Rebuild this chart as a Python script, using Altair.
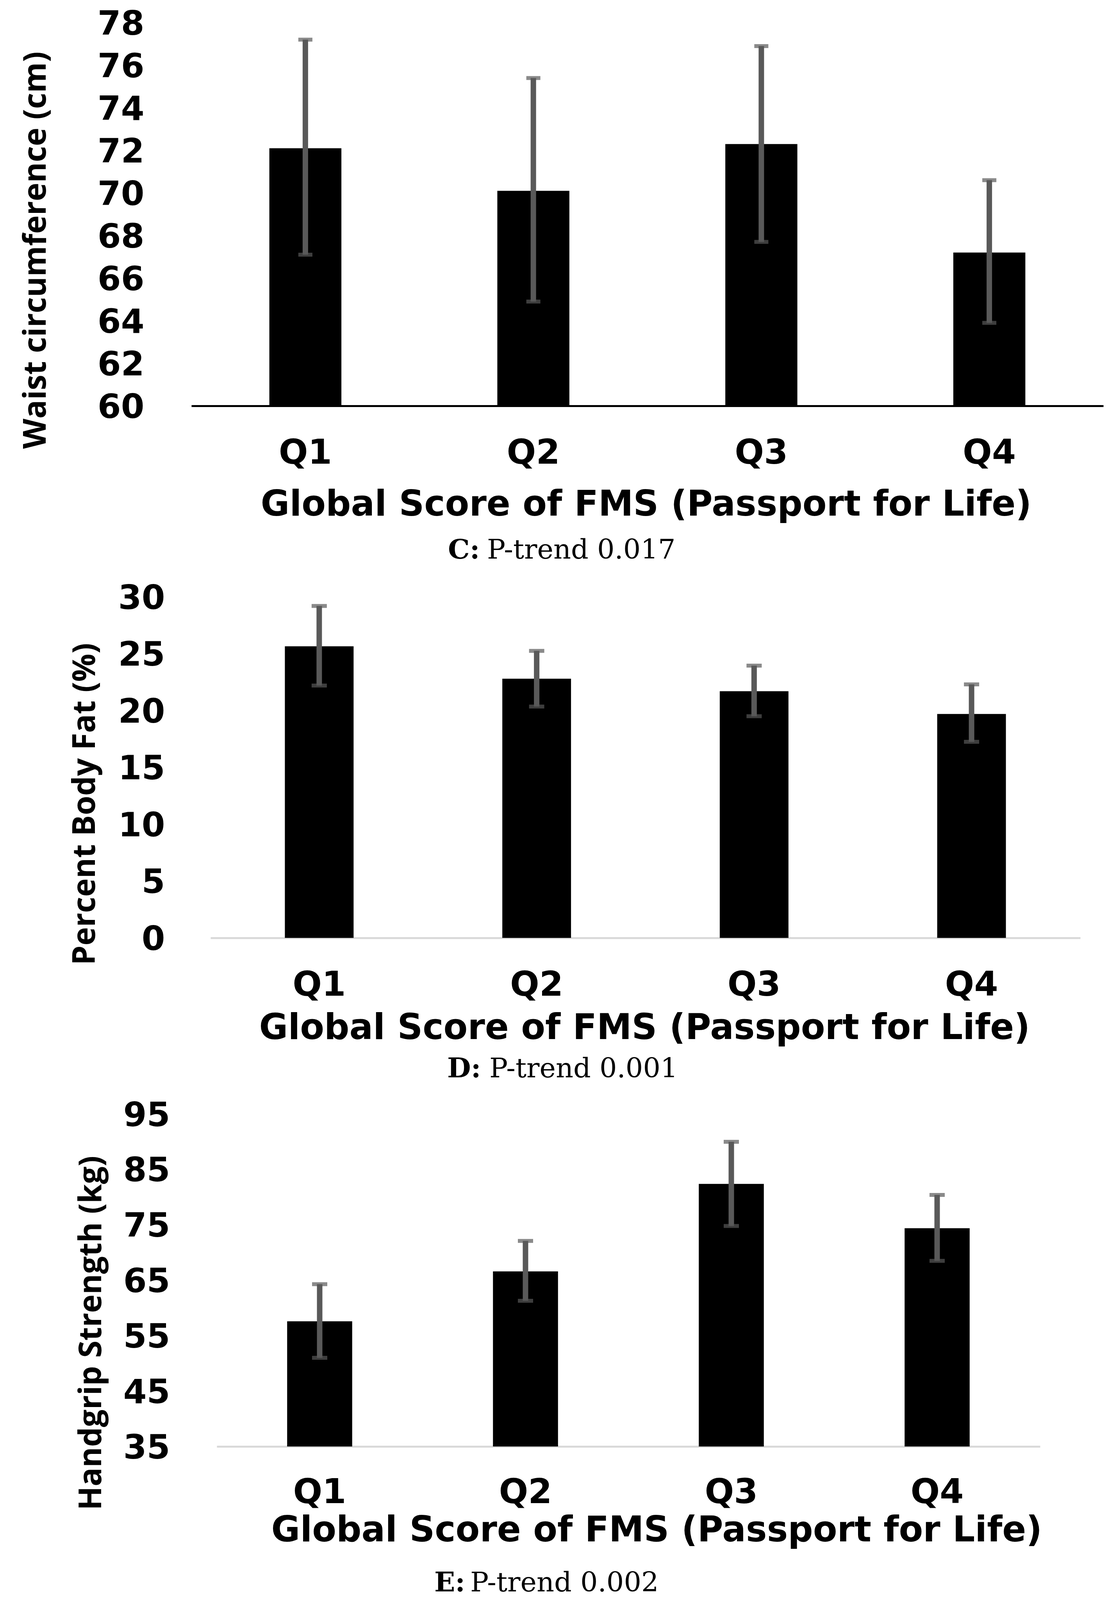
import altair as alt
import pandas as pd

# ---------------- data ----------------
categories = ["Q1", "Q2", "Q3", "Q4"]

waist_mean = [72.1, 70.1, 72.3, 67.2]
waist_low = [67.1, 64.9, 67.7, 63.9]
waist_high = [77.2, 75.4, 76.9, 70.6]
waist_ticks = [60, 62, 64, 66, 68, 70, 72, 74, 76, 78]

fat_mean = [25.65, 22.8, 21.7, 19.7]
fat_low = [22.2, 20.35, 19.5, 17.25]
fat_high = [29.2, 25.25, 23.95, 22.3]
fat_ticks = [0, 5, 10, 15, 20, 25, 30]

grip_mean = [57.6, 66.6, 82.4, 74.4]
grip_low = [51.0, 61.3, 74.8, 68.5]
grip_high = [64.3, 72.1, 90.0, 80.4]
grip_ticks = [35, 45, 55, 65, 75, 85, 95]

x_title = "Global Score of FMS (Passport for Life)"
y_titles = ["Waist circumference (cm)", "Percent Body Fat (%)", "Handgrip Strength (kg)"]
cap_letters = ["C:", "D:", "E:"]
cap_texts = ["P-trend 0.017", "P-trend 0.001", "P-trend 0.002"]

# ---------------- styling / layout ----------------
W, H = 2821, 4088
SANS = "DejaVu Sans"
YT_FONT = "Open Sans"
SERIF = "DejaVu Serif"
ERR = "#595959"

layouts = [
    dict(left=482, right=2817, top=50, bottom=1031, ylab=121, ytx=-374, yty=632,
         xlab=147, xty=280, xtx=1646, dcolor="#000000",
         bx=1139, rx=1239, cy=1422, sw=14, cw=36),
    dict(left=531, right=2758, top=1520, bottom=2393, ylab=117, ytx=-297, yty=2050,
         xlab=147, xty=258, xtx=1642, dcolor="#d9d9d9",
         bx=1137, rx=1245, cy=2750, sw=14, cw=39),
    dict(left=547, right=2655, top=2844, bottom=3695, ylab=120, ytx=-297, yty=3404,
         xlab=144, xty=242, xtx=1673, dcolor="#d9d9d9",
         bx=1104, rx=1196, cy=4066, sw=14, cw=39),
]


def make_panel(mean, low, high, ticks, ytitle, letter, text, L):
    df = pd.DataFrame({"cat": categories, "mean": mean, "low": low, "high": high})
    xenc = alt.X(
        "cat:N", sort=categories,
        scale=alt.Scale(range=[L["left"], L["right"]], paddingInner=0.684, paddingOuter=0.342),
        axis=alt.Axis(
            orient="bottom", offset=L["bottom"] - H,
            title=x_title, labelAngle=0, labelFont=SANS, labelFontWeight="bold",
            labelFontSize=88, labelColor="black", labelBaseline="alphabetic",
            labelPadding=L["xlab"], ticks=False, tickSize=0, domain=True,
            domainColor=L["dcolor"], domainWidth=5, grid=False,
            titleFont=SANS, titleFontWeight="bold", titleFontSize=90,
            titleColor="black", titleBaseline="alphabetic", titleAlign="center",
            titleX=L["xtx"], titleY=L["xty"],
        ),
    )
    ysc = alt.Scale(domain=[ticks[0], ticks[-1]], range=[L["bottom"], L["top"]],
                    zero=False, nice=False)
    yax = alt.Axis(
        orient="left", offset=-L["left"],
        title=ytitle, values=ticks, labelFont=SANS, labelFontWeight="bold",
        labelFontSize=86, labelColor="black", labelPadding=L["ylab"],
        labelOffset=4, labelOverlap=False, ticks=False, tickSize=0, domain=False,
        grid=False, titleFont=YT_FONT, titleFontWeight="bold", titleFontSize=80,
        titleColor="black", titleAngle=270, titleBaseline="alphabetic",
        titleAlign="center", titleX=L["ytx"], titleY=L["yty"],
    )
    base = alt.Chart(df)
    bars = base.mark_bar(color="black").encode(
        x=xenc, y=alt.Y("mean:Q", scale=ysc, axis=yax, title=ytitle),
        y2=alt.datum(ticks[0]),
    )
    stems = base.mark_rule(color=ERR, strokeWidth=L["sw"]).encode(
        x=xenc, y=alt.Y("low:Q", scale=ysc, axis=yax, title=ytitle), y2="high:Q"
    )
    cap_hi = base.mark_tick(color=ERR, thickness=10, size=L["cw"]).encode(
        x=xenc, y=alt.Y("high:Q", scale=ysc, axis=yax, title=ytitle)
    )
    cap_lo = base.mark_tick(color=ERR, thickness=10, size=L["cw"]).encode(
        x=xenc, y=alt.Y("low:Q", scale=ysc, axis=yax, title=ytitle)
    )
    one = alt.Chart(pd.DataFrame({"a": [letter], "b": [text]}))
    cap_b = one.mark_text(font=SERIF, fontSize=70, fontWeight="bold", align="left",
                          baseline="alphabetic", color="black").encode(
        text="a:N", x=alt.value(L["bx"]), y=alt.value(L["cy"]))
    cap_r = one.mark_text(font=SERIF, fontSize=70, align="left",
                          baseline="alphabetic", color="black").encode(
        text="b:N", x=alt.value(L["rx"]), y=alt.value(L["cy"]))
    return alt.layer(bars, stems, cap_hi, cap_lo, cap_b, cap_r)


p1 = make_panel(waist_mean, waist_low, waist_high, waist_ticks, y_titles[0],
                cap_letters[0], cap_texts[0], layouts[0])
p2 = make_panel(fat_mean, fat_low, fat_high, fat_ticks, y_titles[1],
                cap_letters[1], cap_texts[1], layouts[1])
p3 = make_panel(grip_mean, grip_low, grip_high, grip_ticks, y_titles[2],
                cap_letters[2], cap_texts[2], layouts[2])

chart = alt.layer(p1, p2, p3).resolve_scale(
    x="independent", y="independent"
).resolve_axis(
    x="independent", y="independent"
).properties(
    width=W, height=H, padding=0, background="white",
    autosize=alt.AutoSizeParams(type="none"),
).configure_view(stroke=None)

chart.save("out.html", embed_options={"renderer": "svg", "actions": False})
